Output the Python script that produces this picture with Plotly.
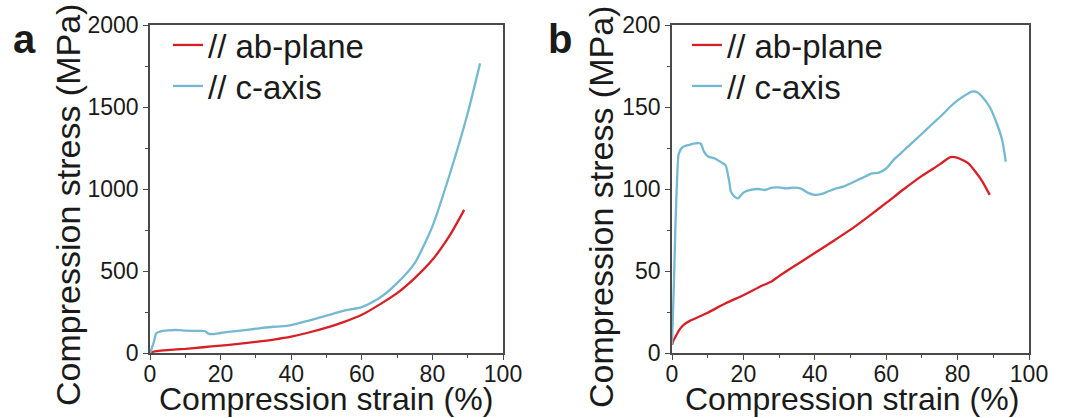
import plotly.graph_objects as go

# ---- data ----
# Panel a
a_ab_strain = [0, 1, 2, 5, 10, 15, 20, 25, 30, 35, 40, 45, 50, 55, 60, 65, 70, 75, 80, 85, 89]
a_ab_stress = [0, 8, 12, 18, 25, 35, 45, 55, 68, 82, 100, 125, 155, 190, 233, 295, 365, 457, 568, 720, 873]

a_c_strain = [0, 1, 1.8, 3, 5, 8, 10, 13, 15.5, 16.5, 18, 20, 25, 30, 35, 37, 40, 45, 50, 55, 60, 65, 70, 75, 80, 85, 90, 93.5]
a_c_stress = [0, 60, 120, 132, 138, 140, 136, 135, 134, 118, 115, 122, 135, 148, 160, 162, 170, 198, 228, 258, 280, 335, 426, 548, 772, 1096, 1462, 1766]

# Panel b
b_ab_strain = [0, 0.5, 1, 2, 3.5, 5, 10, 15, 20, 25, 28, 30, 35, 40, 45, 50, 55, 60, 65, 70, 75, 78, 80, 83, 85, 87, 89]
b_ab_stress = [5, 8, 10, 14, 17.6, 19.6, 24.6, 30.3, 35.2, 40.8, 43.8, 46.9, 54, 61, 68, 75.2, 83.2, 91.5, 100, 108, 115, 119.5, 119, 115.6, 110.5, 104.4, 96.4]

b_c_strain = [0, 0.5, 1, 1.5, 1.9, 3, 5, 6, 8, 9, 10, 12, 14, 15, 16, 16.5, 17.5, 18.5, 20, 22, 24, 26, 28, 30, 32,
              34, 36, 38, 40, 42, 44, 46, 48, 50, 52, 54, 56, 58, 60, 62, 64, 66, 68, 70, 72, 74, 76, 78, 80, 82,
              84, 85.5, 87, 89, 91, 92.5, 93.5]
b_c_stress = [5, 40, 80, 110, 121.6, 125.6, 127, 127.7, 127.7, 122.6, 120, 118.6, 116, 114.5, 105, 98.4, 95.4, 94.3,
              97.8, 99.4, 100, 99.4, 100.8, 101, 100.4, 100.8, 100.4, 97.8, 96.4, 97, 98.8, 100.4, 101.4, 103.4,
              105.5, 107.5, 109.5, 110, 112.5, 117.6, 121.6, 125.7, 129.7, 133.7, 137.8, 141.8, 145.9, 150.3, 154,
              157, 159.4, 159, 156, 150, 139.8, 129.7, 116.6]

series_names = ["// ab-plane", "// c-axis"]
x_ticks = [0, 20, 40, 60, 80, 100]
ya_ticks = [0, 500, 1000, 1500, 2000]
yb_ticks = [0, 50, 100, 150, 200]

RED = "#d81f26"
BLUE = "#74b9d1"
AXC = "#4a4a4a"
TXT = "#1a1a1a"
FONT = "Liberation Sans, Arial, sans-serif"
W, H = 1067, 418

fig = go.Figure()
line_kw = dict(width=2.3, shape="spline", smoothing=0.6)
fig.add_trace(go.Scatter(x=a_ab_strain, y=a_ab_stress, mode="lines", name=series_names[0],
                         line=dict(color=RED, **line_kw), xaxis="x", yaxis="y", legend="legend"))
fig.add_trace(go.Scatter(x=a_c_strain, y=a_c_stress, mode="lines", name=series_names[1],
                         line=dict(color=BLUE, **line_kw), xaxis="x", yaxis="y", legend="legend2"))
fig.add_trace(go.Scatter(x=b_ab_strain, y=b_ab_stress, mode="lines", name=series_names[0],
                         line=dict(color=RED, **line_kw), xaxis="x2", yaxis="y2", legend="legend3"))
fig.add_trace(go.Scatter(x=b_c_strain, y=b_c_stress, mode="lines", name=series_names[1],
                         line=dict(color=BLUE, **line_kw), xaxis="x2", yaxis="y2", legend="legend4"))

ydom = [(H - 353) / H, (H - 25) / H]

def xax(dom, anchor):
    return dict(domain=dom, anchor=anchor, range=[0, 100], tickvals=x_ticks, ticks="outside", ticklen=5,
                tickwidth=1.3, tickcolor=AXC, showline=True, linecolor=AXC, linewidth=1.5, mirror=True,
                showgrid=False, zeroline=False, automargin=False, ticklabelstandoff=-5,
                tickfont=dict(size=23, color=TXT, family=FONT),
                minor=dict(dtick=10, ticks="outside", ticklen=3, tickcolor=AXC, tickwidth=1.2))

def yax(rng, tv, anchor, minor_dt):
    return dict(domain=ydom, anchor=anchor, range=rng, tickvals=tv, ticks="outside", ticklen=5,
                tickwidth=1.3, tickcolor=AXC, showline=True, linecolor=AXC, linewidth=1.5, mirror=True,
                showgrid=False, zeroline=False, automargin=False,
                tickfont=dict(size=23, color=TXT, family=FONT),
                minor=dict(dtick=minor_dt, ticks="outside", ticklen=3, tickcolor=AXC, tickwidth=1.2))

leg_common = dict(font=dict(size=33, color=TXT, family=FONT), bgcolor="rgba(0,0,0,0)",
                  xanchor="left", yanchor="top", tracegroupgap=0, itemwidth=30)

row1, row2 = 17, 58
fig.update_layout(
    width=W, height=H, margin=dict(l=0, r=0, t=0, b=0, autoexpand=False),
    paper_bgcolor="white", plot_bgcolor="white",
    xaxis=xax([150 / W, 503 / W], "y"),
    yaxis=yax([0, 2000], ya_ticks, "x", 250),
    xaxis2=xax([672 / W, 1029 / W], "y2"),
    yaxis2=yax([0, 200], yb_ticks, "x2", 25),
    legend=dict(x=168 / W, y=1 - row1 / H, **leg_common),
    legend2=dict(x=168 / W, y=1 - row2 / H, **leg_common),
    legend3=dict(x=687 / W, y=1 - row1 / H, **leg_common),
    legend4=dict(x=687 / W, y=1 - row2 / H, **leg_common),
    showlegend=True,
)

annots = [
    dict(text="<b>a</b>", x=24 / W, y=1 - 39 / H, font=dict(size=40)),
    dict(text="<b>b</b>", x=560 / W, y=1 - 39 / H, font=dict(size=40)),
    dict(text="Compression strain (%)", x=326 / W, y=1 - 399 / H, font=dict(size=32)),
    dict(text="Compression strain (%)", x=852 / W, y=1 - 399 / H, font=dict(size=32)),
    dict(text="Compression stress (MPa)", x=68 / W, y=1 - 205 / H, font=dict(size=34), textangle=-90),
    dict(text="Compression stress (MPa)", x=601 / W, y=1 - 207 / H, font=dict(size=34), textangle=-90),
]
for an in annots:
    an["font"].update(color=TXT, family=FONT)
    fig.add_annotation(xref="paper", yref="paper", showarrow=False, xanchor="center", yanchor="middle", **an)

fig.write_html("out.html")
